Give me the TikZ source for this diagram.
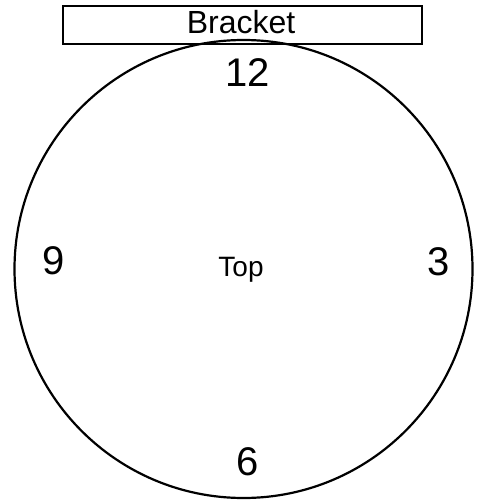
\documentclass[tikz,border=0pt]{standalone}
\usepackage{fontspec}
\setmainfont{Liberation Sans}
\begin{document}
\begin{tikzpicture}[x=1pt,y=-1pt,
  lbl/.style={inner sep=0pt, anchor=base, font=\fontsize{40}{40}\selectfont},
  toplbl/.style={inner sep=0pt, anchor=base, font=\fontsize{28}{28}\selectfont},
  brk/.style={draw=black, line width=1.5pt, minimum width=359pt, minimum height=38pt, inner sep=0pt},
  rim/.style={draw=black, line width=2.2pt}]
\useasboundingbox (0,0) rectangle (477,502);
\node[brk] (bracket) at (242.5,25) {};
\draw[rim] (243.5,269) circle[radius=229];
\node[inner sep=0pt, anchor=base, font=\fontsize{32}{32}\selectfont] (btext) at (241,33.5) {Bracket};
\node[lbl] (n12) at (248,87) {12};
\node[lbl] (n9) at (53.5,274) {9};
\node[lbl] (n3) at (439,275) {3};
\node[lbl] (n6) at (247.5,475) {6};
\node[toplbl] (top) at (241,276) {Top};
\end{tikzpicture}
\end{document}
